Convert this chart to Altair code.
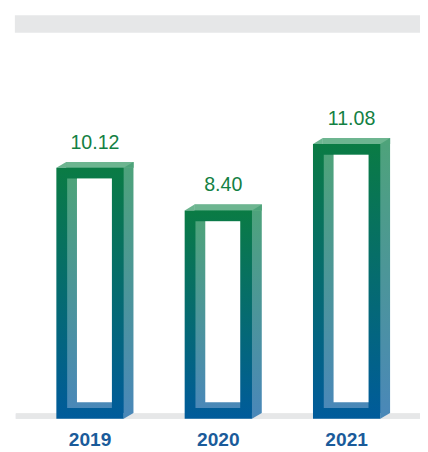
import altair as alt
import pandas as pd

# ---- data ----
years = ["2019", "2020", "2021"]
values = [10.12, 8.40, 11.08]

df = pd.DataFrame({"year": years, "value": values})
one = pd.DataFrame({"k": [0]})

# ---- style constants ----
W, H = 420, 444
BAR_W = 68.6      # front face width (px)
DX, DY = 10, 6    # 3D depth offset (px)
TL, TR, TT, TB = 11, 12, 11, 11   # frame thickness left/right/top/bottom

GREY = "#e6e7e8"
FRONT_TOP, FRONT_BOT = "#0a7b44", "#005b9b"
SIDE_TOP, SIDE_BOT = "#4ea37a", "#4a88b8"
TOPFACE = "#6db590"
VAL_COLOR = "#138043"
YEAR_COLOR = "#1a5b9a"


def grad(top, bottom):
    return alt.LinearGradient(
        gradient="linear",
        stops=[alt.GradientStop(color=top, offset=0), alt.GradientStop(color=bottom, offset=1)],
        x1=0, x2=0, y1=0, y2=1,
    )


xenc = alt.X("year:N", sort=years, axis=None,
             scale=alt.Scale(type="band", range=[18.2, 410.6], paddingInner=0, paddingOuter=0))
yscale = alt.Scale(domain=[-1.1665, 16.39], nice=False, zero=False)
yenc = alt.Y("value:Q", axis=None, scale=yscale)
y0 = alt.Y("zero:Q", axis=None, scale=yscale)
y2z = alt.Y2("zero:Q")

base = alt.Chart(df).transform_calculate(zero="0")

top_band = alt.Chart(one).mark_rect(color=GREY).encode(
    x=alt.value(7), x2=alt.value(420), y=alt.value(3), y2=alt.value(21))

base_band = base.mark_rect(color=GREY, y2Offset=-5.5).encode(
    x=alt.value(8), x2=alt.value(420), y=y0, y2=y2z)

back = base.mark_bar(width=BAR_W, xOffset=DX, yOffset=-DY, y2Offset=-DY,
                     color=grad(SIDE_TOP, SIDE_BOT)).encode(x=xenc, y=yenc, y2=y2z)

top_face = base.mark_bar(width=BAR_W, xOffset=DX, yOffset=-DY, color=TOPFACE).encode(
    x=xenc, y=yenc, y2=alt.Y2("value"))

tri_a = "M-1,0.6L1,-0.6L1,0.6Z"
tri_b = "M-1,-0.6L1,-0.6L-1,0.6Z"

tri_tl = base.mark_point(shape=tri_a, size=100, filled=True, color=TOPFACE, opacity=1,
                         strokeWidth=0, xOffset=-BAR_W / 2 + DX / 2, yOffset=-DY / 2).encode(
    x=xenc, y=yenc)
tri_tr = base.mark_point(shape=tri_a, size=100, filled=True, color=SIDE_TOP, opacity=1,
                         strokeWidth=0, xOffset=BAR_W / 2 + DX / 2, yOffset=-DY / 2).encode(
    x=xenc, y=yenc)
tri_br = base.mark_point(shape=tri_b, size=100, filled=True, color=SIDE_BOT, opacity=1,
                         strokeWidth=0, xOffset=BAR_W / 2 + DX / 2, yOffset=-DY / 2).encode(
    x=xenc, y=y0)

front = base.mark_bar(width=BAR_W, color=grad(FRONT_TOP, FRONT_BOT)).encode(
    x=xenc, y=yenc, y2=y2z)

hole = base.mark_bar(width=BAR_W - TL - TR, xOffset=(TL - TR) / 2, yOffset=TT, y2Offset=-TB,
                     color=grad(SIDE_TOP, SIDE_BOT)).encode(x=xenc, y=yenc, y2=y2z)

white = base.mark_bar(width=BAR_W - TL - DX - TR, xOffset=(TL + DX - TR) / 2,
                      yOffset=TT, y2Offset=-(TB + DY), color="white").encode(
    x=xenc, y=yenc, y2=y2z)

val_text = base.mark_text(font="Liberation Sans", fontSize=20, color=VAL_COLOR,
                          baseline="alphabetic", dy=-19.4, dx=DX / 2).encode(
    x=xenc, y=yenc, text=alt.Text("value:Q", format=".2f"))

year_text = base.mark_text(font="Liberation Sans", fontSize=19.5, fontWeight="bold",
                           color=YEAR_COLOR, baseline="alphabetic", dy=27.5).encode(
    x=xenc, y=y0, text="year:N")

chart = alt.layer(
    top_band, base_band, back, top_face, tri_tl, tri_tr, tri_br, front, hole, white,
    val_text, year_text
).properties(
    width=W, height=H, padding=0, autosize=alt.AutoSizeParams(type="none")
).configure_view(stroke=None)

chart.save("out.html", embed_options={"renderer": "svg", "actions": False})
